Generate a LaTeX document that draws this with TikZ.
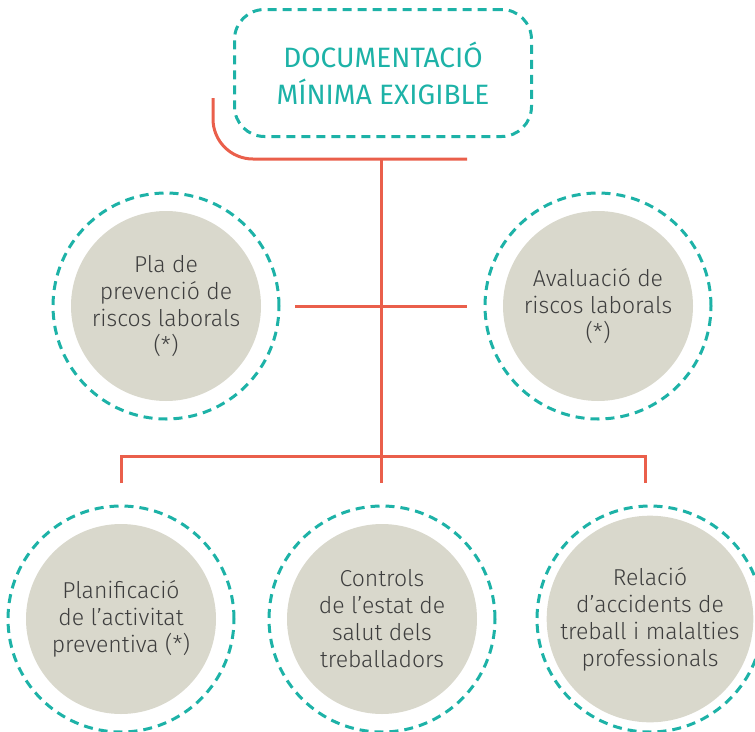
\documentclass[tikz,border=0pt]{standalone}
\usepackage{fontspec}
\setmainfont{Fira Sans}
\newfontfamily\lightfont{Fira Sans Light}
\definecolor{docteal}{HTML}{1DB2A7}
\definecolor{docred}{HTML}{EA5F4B}
\definecolor{docbeige}{HTML}{D9D8CC}
\definecolor{docgrey}{HTML}{3E3E3E}
\begin{document}
\begin{tikzpicture}[
    x=1pt, y=-1pt,
    title/.style={rectangle, rounded corners=30pt, draw=docteal, line width=3pt, dash pattern=on 9pt off 6pt, minimum width=297pt, minimum height=127pt, text=docteal, align=center, font=\fontsize{28}{37}\selectfont},
    topic/.style={circle, fill=docbeige, minimum size=190pt, inner sep=0pt, align=center, text=docgrey, font=\lightfont\fontsize{23}{27}\selectfont},
    ring/.style={draw=docteal, line width=3pt, dash pattern=on 9pt off 6pt},
    link/.style={draw=docred, line width=3pt}
]
\useasboundingbox (0,0) rectangle (755,731);
\node[title] (doc) at (383,73) {DOCUMENTACIÓ\\MÍNIMA EXIGIBLE};
\node[topic] (pla) at (166,306) {Pla de\\prevenció de\\riscos laborals\\(*)};
\node[topic] (aval) at (598,306) {Avaluació de\\riscos laborals\\(*)};
\node[topic] (plan) at (121,619) {Planificació\\de l’activitat\\preventiva (*)};
\node[topic] (ctrl) at (382,619) {Controls\\de l’estat de\\salut dels\\treballadors};
\node[topic] (rel) at (650,619) {Relació\\d’accidents de\\treball i malalties\\professionals};
\foreach \n in {pla,aval,plan,ctrl,rel}
    \draw[ring] (\n.center) circle (113pt);
% connectors
\coordinate (hook) at (213,98);
\coordinate (spanR) at (467,159);
\coordinate (trunk) at (381,159);
\coordinate (bar) at (381,456);
\coordinate (midL) at (295,306);
\coordinate (midR) at (467,306);
\coordinate (planTip) at (121,483);
\coordinate (ctrlTip) at (381,483);
\coordinate (relTip) at (645,483);
\draw[link, rounded corners=40pt] (hook) |- (spanR);
\draw[link] (trunk) -- (bar);
\draw[link] (midL) -- (midR);
\draw[link] (planTip) |- (bar) -| (relTip);
\draw[link] (bar) -- (ctrlTip);
\end{tikzpicture}
\end{document}
